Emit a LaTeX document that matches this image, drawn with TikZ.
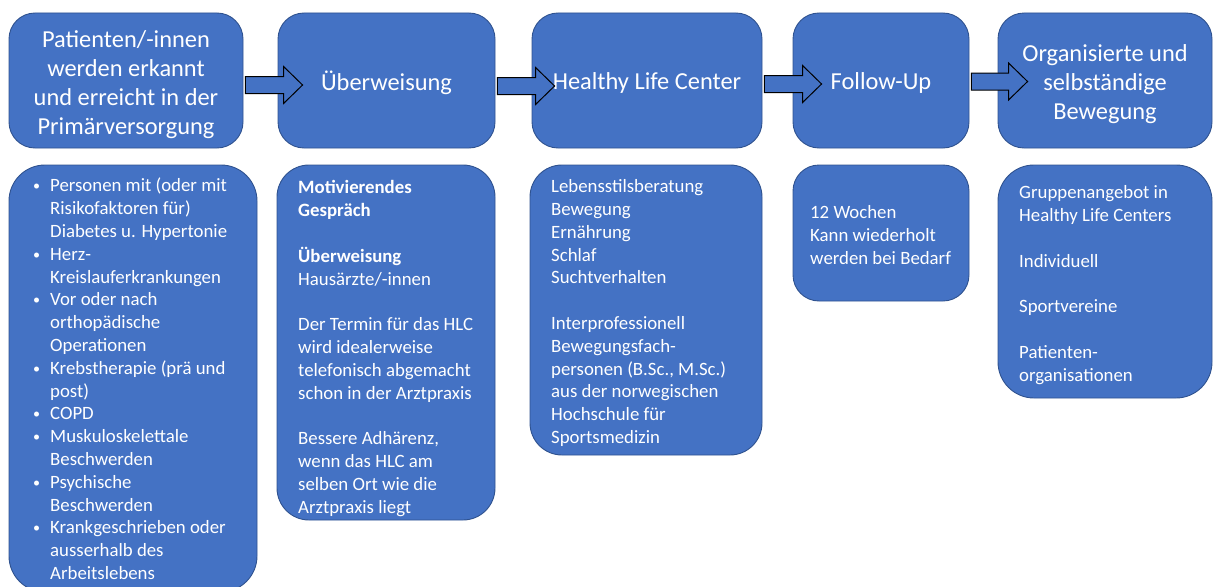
\documentclass[tikz,border=0pt]{standalone}
\usepackage{fontspec}
\setmainfont{Carlito}
\usetikzlibrary{calc}
\definecolor{boxfill}{HTML}{4472C4}
\definecolor{boxline}{HTML}{2F528F}
\tikzset{
  box/.style={draw=boxline, line width=0.9pt, fill=boxfill, rectangle, inner sep=0pt},
  topbox/.style={box, rounded corners=26pt, minimum height=135pt},
  toptext/.style={inner sep=0pt, text=white, align=center,
    font={\fontsize{24.4}{29.2}\selectfont}},
  lowbox/.style={box, rounded corners=32pt},
  lowtext/.style={inner sep=0pt, anchor=north west, text=white, align=left,
    font={\fontsize{18.8}{22.8}\selectfont}},
  barrow/.style={draw=black, line width=1pt, fill=boxfill, line join=miter}
}
\newcommand{\bul}{\llap{\raisebox{1pt}{\scalebox{0.75}{\textbullet}}\hspace{10pt}}}
\newcommand{\blockarrow}[4]{%
  \draw[barrow]
    ($(#1.east |- 0,#3)+(2,-8.5)$) -- ($(#2.west |- 0,#3)+(#4-19,-8.5)$)
    -- ($(#2.west |- 0,#3)+(#4-19,-18.5)$) -- ($(#2.west |- 0,#3)+(#4,0)$)
    -- ($(#2.west |- 0,#3)+(#4-19,18.5)$) -- ($(#2.west |- 0,#3)+(#4-19,8.5)$)
    -- ($(#1.east |- 0,#3)+(2,8.5)$) -- cycle;}
\begin{document}
\begin{tikzpicture}[x=1pt,y=-1pt]
\useasboundingbox (0,0) rectangle (1214,586);
\clip (0,0) rectangle (1214,586);
% top row
\node[topbox, minimum width=234pt] (t1) at (126,80.5) {};
\node[topbox, minimum width=217pt] (t2) at (386.5,80.5) {};
\node[topbox, minimum width=230pt] (t3) at (647,80.5) {};
\node[topbox, minimum width=176pt] (t4) at (881,80.5) {};
\node[topbox, minimum width=214pt] (t5) at (1105,80.5) {};
\node[toptext] (t1x) at ($(t1)+(0,4)$) {Patienten/-innen\\werden erkannt\\und erreicht in der\\Primärversorgung};
\node[toptext] (t2x) at ($(t2)+(0,2)$) {Überweisung};
\node[toptext] (t3x) at ($(t3)+(0,2)$) {Healthy Life Center};
\node[toptext] (t4x) at ($(t4)+(0,2)$) {Follow-Up};
\node[toptext] (t5x) at ($(t5)+(0,3.5)$) {Organisierte und\\selbständige\\Bewegung};
% bottom row
\node[lowbox, minimum width=248pt, minimum height=427pt, rounded corners=36pt] (b1) at (133,378.5) {};
\node[lowbox, minimum width=218pt, minimum height=355pt] (b2) at (386,342.5) {};
\node[lowbox, minimum width=232pt, minimum height=290pt] (b3) at (646,310) {};
\node[lowbox, minimum width=176pt, minimum height=136pt, rounded corners=26pt] (b4) at (881,233) {};
\node[lowbox, minimum width=214pt, minimum height=233pt, rounded corners=36pt] (b5) at (1105,281.5) {};
% texts
\node[lowtext] (b1t) at (50,178) {\bul Personen mit (oder mit\\Risikofaktoren für)\\Diabetes u. Hypertonie\\
\bul Herz-\\Kreislauferkrankungen\\
\bul Vor oder nach\\orthopädische\\Operationen\\
\bul Krebstherapie (prä und\\post)\\
\bul COPD\\
\bul Muskuloskelettale\\Beschwerden\\
\bul Psychische\\Beschwerden\\
\bul Krankgeschrieben oder\\ausserhalb des\\Arbeitslebens};
\node[lowtext] (b2t) at (298,180.5) {\textbf{Motivierendes}\\\textbf{Gespräch}\\\mbox{}\\
\textbf{Überweisung}\\Hausärzte/-innen\\\mbox{}\\
Der Termin für das HLC\\wird idealerweise\\telefonisch abgemacht\\schon in der Arztpraxis\\\mbox{}\\
Bessere Adhärenz,\\wenn das HLC am\\selben Ort wie die\\Arztpraxis liegt};
\node[lowtext] (b3t) at (551,179.5) {Lebensstilsberatung\\Bewegung\\Ernährung\\Schlaf\\Suchtverhalten\\\mbox{}\\
Interprofessionell\\Bewegungsfach-\\personen (B.Sc., M.Sc.)\\aus der norwegischen\\Hochschule für\\Sportsmedizin};
\node[lowtext] (b4t) at (810,205.5) {12 Wochen\\Kann wiederholt\\werden bei Bedarf};
\node[lowtext] (b5t) at (1019,185.5) {Gruppenangebot in\\Healthy Life Centers\\\mbox{}\\Individuell\\\mbox{}\\Sportvereine\\\mbox{}\\Patienten-\\organisationen};
% arrows
\blockarrow{t1}{t2}{85}{25}
\blockarrow{t2}{t3}{86}{23}
\blockarrow{t3}{t4}{84}{29}
\blockarrow{t4}{t5}{81.5}{30}
\end{tikzpicture}
\end{document}
